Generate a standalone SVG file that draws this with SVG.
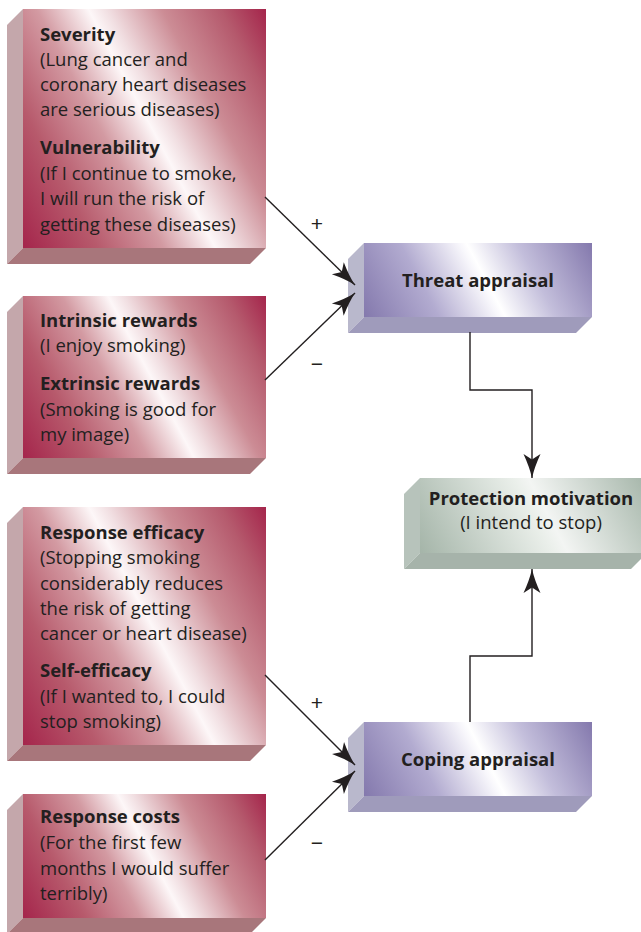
<svg xmlns="http://www.w3.org/2000/svg" width="641" height="932" viewBox="0 0 641 932">
<style>
text{font-family:"Open Sans","Liberation Sans",sans-serif;fill:#231f20;font-size:18.5px}
.b{font-weight:700}
.c{text-anchor:middle}
.sgn{font-family:"Liberation Sans",sans-serif;font-size:21px;font-weight:300;text-anchor:middle;fill:#231f20}
.rs{fill:#c4a7ab}.rb{fill:#a8767b}
.ps{fill:#b9b8cc}.pb{fill:#9f9bbb}
.gs{fill:#b7c3bb}.gb{fill:#a6b3aa}
.ln{fill:none;stroke:#231f20;stroke-width:1.4}
</style>
<defs>
<linearGradient id="gR1" gradientUnits="userSpaceOnUse" x1="1" y1="205" x2="288" y2="52"><stop offset="0" stop-color="#a5264c"/><stop offset="0.2" stop-color="#b75a6c"/><stop offset="0.38" stop-color="#d39aa2"/><stop offset="0.52" stop-color="#fdf7f8"/><stop offset="0.57" stop-color="#f1dfe2"/><stop offset="0.72" stop-color="#cc8c95"/><stop offset="0.88" stop-color="#b55a6d"/><stop offset="1" stop-color="#a5264c"/></linearGradient>
<linearGradient id="gR2" href="#gR1" x1="17" y1="445" x2="272" y2="309"/>
<linearGradient id="gR3" href="#gR1" x1="1" y1="702" x2="288" y2="550"/>
<linearGradient id="gR4" href="#gR1" x1="25" y1="920" x2="264" y2="792"/>
<linearGradient id="gP1" gradientUnits="userSpaceOnUse" x1="374" y1="335" x2="582" y2="225"><stop offset="0" stop-color="#8479ad"/><stop offset="0.28" stop-color="#b2abd0"/><stop offset="0.5" stop-color="#f7f6fb"/><stop offset="0.53" stop-color="#ffffff"/><stop offset="0.72" stop-color="#c3bedb"/><stop offset="1" stop-color="#8479ad"/></linearGradient>
<linearGradient id="gP2" href="#gP1" x1="374" y1="814" x2="582" y2="704"/>
<linearGradient id="gG" gradientUnits="userSpaceOnUse" x1="430" y1="570" x2="635" y2="461"><stop offset="0" stop-color="#a5b5a9"/><stop offset="0.5" stop-color="#eaefea"/><stop offset="0.56" stop-color="#f3f5f3"/><stop offset="1" stop-color="#a7b7ab"/></linearGradient>
<marker id="ah" viewBox="-26 -10 28 20" refX="0" refY="0" markerWidth="28" markerHeight="20" markerUnits="userSpaceOnUse" orient="auto"><path d="M0,0 Q-11,-2.5 -24,-8.5 L-18.5,0 L-24,8.5 Q-11,2.5 0,0 Z" fill="#231f20"/></marker>
</defs>

<g id="severity-vulnerability">
<polygon class="rs" points="7,25 23,9 23,248 7,264"/>
<polygon class="rb" points="23,248 266,248 250,264 7,264"/>
<rect x="23" y="9" width="243" height="239" fill="url(#gR1)"/>
<text x="40" y="41" class="b">Severity</text>
<text x="40" y="66">(Lung cancer and</text>
<text x="40" y="91">coronary heart diseases</text>
<text x="40" y="116">are serious diseases)</text>
<text x="40" y="154" class="b">Vulnerability</text>
<text x="40" y="180">(If I continue to smoke,</text>
<text x="40" y="205">I will run the risk of</text>
<text x="40" y="231">getting these diseases)</text>
</g>

<g id="rewards">
<polygon class="rs" points="7,312 23,296 23,458 7,474"/>
<polygon class="rb" points="23,458 266,458 250,474 7,474"/>
<rect x="23" y="296" width="243" height="162" fill="url(#gR2)"/>
<text x="40" y="327" class="b">Intrinsic rewards</text>
<text x="40" y="352">(I enjoy smoking)</text>
<text x="40" y="390" class="b">Extrinsic rewards</text>
<text x="40" y="416">(Smoking is good for</text>
<text x="40" y="441">my image)</text>
</g>

<g id="efficacy">
<polygon class="rs" points="7,523 23,507 23,745 7,761"/>
<polygon class="rb" points="23,745 266,745 250,761 7,761"/>
<rect x="23" y="507" width="243" height="238" fill="url(#gR3)"/>
<text x="40" y="539" class="b">Response efficacy</text>
<text x="40" y="564">(Stopping smoking</text>
<text x="40" y="590">considerably reduces</text>
<text x="40" y="615">the risk of getting</text>
<text x="40" y="640">cancer or heart disease)</text>
<text x="40" y="677" class="b">Self-efficacy</text>
<text x="40" y="703">(If I wanted to, I could</text>
<text x="40" y="728">stop smoking)</text>
</g>

<g id="response-costs">
<polygon class="rs" points="7,810 23,794 23,918 7,934"/>
<polygon class="rb" points="23,918 266,918 250,934 7,934"/>
<rect x="23" y="794" width="243" height="124" fill="url(#gR4)"/>
<text x="40" y="823" class="b">Response costs</text>
<text x="40" y="849">(For the first few</text>
<text x="40" y="875">months I would suffer</text>
<text x="40" y="900">terribly)</text>
</g>

<g id="threat-appraisal">
<polygon class="ps" points="348,259 364,243 364,317 348,333"/>
<polygon class="pb" points="364,317 592,317 576,333 348,333"/>
<rect x="364" y="243" width="228" height="74" fill="url(#gP1)"/>
<text x="478" y="287" class="b c">Threat appraisal</text>
</g>

<g id="coping-appraisal">
<polygon class="ps" points="348,738 364,722 364,796 348,812"/>
<polygon class="pb" points="364,796 592,796 576,812 348,812"/>
<rect x="364" y="722" width="228" height="74" fill="url(#gP2)"/>
<text x="478" y="766" class="b c">Coping appraisal</text>
</g>

<g id="protection-motivation">
<polygon class="gs" points="404,494 420,478 420,553 404,569"/>
<polygon class="gb" points="420,553 647,553 631,569 404,569"/>
<rect x="420" y="478" width="227" height="75" fill="url(#gG)"/>
<text x="531" y="505" class="b c">Protection motivation</text>
<text x="531" y="529" class="c">(I intend to stop)</text>
</g>

<g id="connectors">
<line class="ln" x1="265" y1="197" x2="355" y2="285" marker-end="url(#ah)"/>
<line class="ln" x1="265" y1="380" x2="355" y2="293" marker-end="url(#ah)"/>
<line class="ln" x1="265" y1="675" x2="355" y2="765" marker-end="url(#ah)"/>
<line class="ln" x1="265" y1="860" x2="355" y2="771" marker-end="url(#ah)"/>
<path class="ln" d="M470,332 V390 H532 V478" marker-end="url(#ah)"/>
<path class="ln" d="M470,722 V656 H532 V569" marker-end="url(#ah)"/>
<text class="sgn" x="317" y="231">+</text>
<text class="sgn" x="317" y="371">−</text>
<text class="sgn" x="317" y="710">+</text>
<text class="sgn" x="317" y="850">−</text>
</g>
</svg>
